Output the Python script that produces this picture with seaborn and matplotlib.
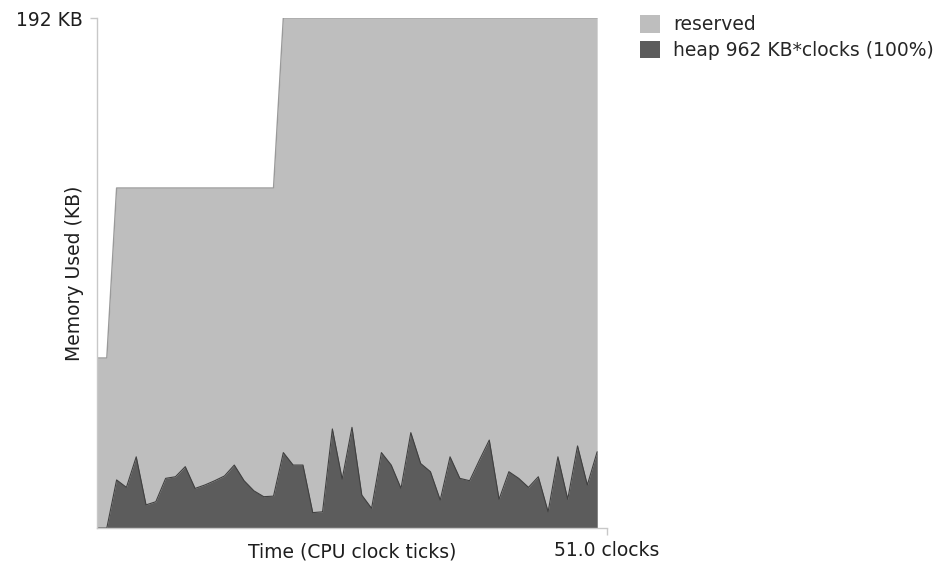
import numpy as np
import pandas as pd
import seaborn as sns
import matplotlib.pyplot as plt
from matplotlib.patches import Patch

# clock ticks 0..51
clocks = list(range(52))

# reserved memory (KB)
reserved_kb = [64, 64] + [128] * 17 + [192] * 33

# heap memory (KB)
heap_kb = [0, 0, 18.1, 15.3, 26.8, 8.7, 9.9, 18.7, 19.3, 23.1,
           14.9, 16.2, 17.8, 19.6, 23.7, 17.8, 14.0, 11.8, 12.0, 28.4,
           23.7, 23.7, 5.8, 6.1, 37.3, 18.4, 37.9, 12.4, 7.4, 28.4,
           23.7, 14.9, 35.9, 24.3, 21.2, 10.5, 26.8, 18.7, 17.8, 25.6,
           33.1, 10.8, 21.2, 18.7, 15.3, 19.3, 6.1, 26.8, 10.8, 30.9,
           16.2, 28.7]

legend_labels = ["reserved", "heap 962 KB*clocks (100%)"]
y_max_label = "192 KB"
x_max_label = "51.0 clocks"

df = pd.DataFrame({"clock": clocks, "reserved": reserved_kb, "heap": heap_kb})

sns.set_theme(style="white")
plt.rcParams["font.family"] = ["DejaVu Sans"]

fs = 13.5
text_color = "#1e1e1e"
reserved_color = "#bebebe"
heap_color = "#5c5c5c"

fig = plt.figure(figsize=(9.5, 5.68), dpi=100)
ax = fig.add_axes([0.1021, 0.0704, 0.5368, 0.8979])

ax.fill_between(df["clock"], 0, df["reserved"], color=reserved_color, linewidth=0)
sns.lineplot(data=df, x="clock", y="reserved", color="#9a9a9a", linewidth=1, ax=ax)
ax.fill_between(df["clock"], 0, df["heap"], color=heap_color, linewidth=0)
sns.lineplot(data=df, x="clock", y="heap", color="#404040", linewidth=0.8, ax=ax)

# axis runs one clock past the last sample, end tick carries the total
ax.set_xlim(0, len(clocks))
ax.set_ylim(0, max(reserved_kb))

for side in ["top", "right"]:
    ax.spines[side].set_visible(False)
for side in ["left", "bottom"]:
    ax.spines[side].set_color("#c8c8c8")
    ax.spines[side].set_linewidth(1)

ax.set_yticks([max(reserved_kb)])
ax.set_yticklabels([y_max_label], fontsize=fs, color=text_color)
ax.set_xticks([len(clocks)])
ax.set_xticklabels([x_max_label], fontsize=fs, color=text_color)
ax.tick_params(axis="y", length=5, width=1, color="#c8c8c8", pad=5, left=True)
ax.tick_params(axis="x", length=5, width=1, color="#c8c8c8", pad=4, bottom=True)

ax.set_xlabel("Time (CPU clock ticks)", fontsize=fs, color=text_color)
ax.set_ylabel("Memory Used (KB)", fontsize=fs, color=text_color)
ax.xaxis.set_label_coords(0.5, -0.028)
ax.yaxis.set_label_coords(-0.025, 0.5)

handles = [Patch(facecolor=reserved_color, edgecolor="none"),
           Patch(facecolor=heap_color, edgecolor="none")]
fig.legend(handles, legend_labels, loc="upper left", bbox_to_anchor=(0.6737, 0.973),
           frameon=False, fontsize=fs, handlelength=1.05, handleheight=1.05,
           handletextpad=0.7, labelspacing=0.35, borderaxespad=0, borderpad=0)

plt.savefig("out.png", dpi=100)
plt.close()
